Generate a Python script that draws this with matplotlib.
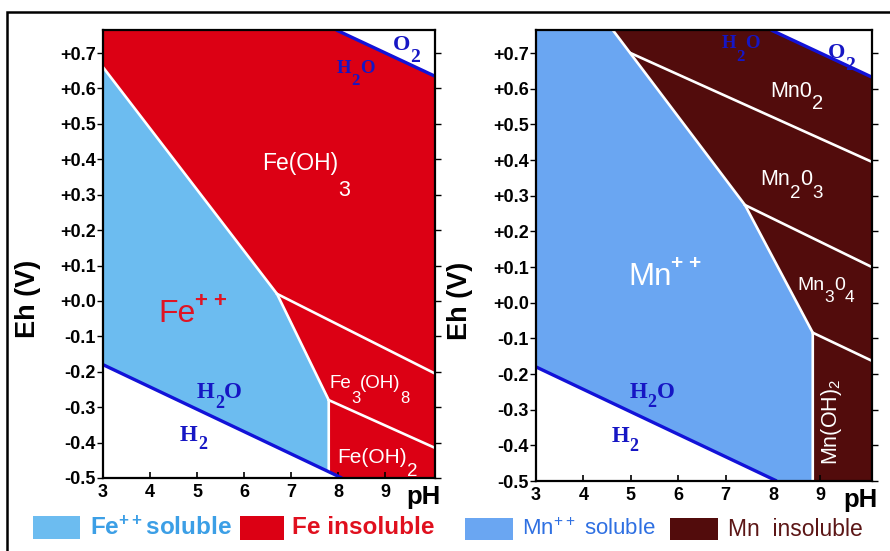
import numpy as np
import matplotlib
matplotlib.use("Agg")
import matplotlib.pyplot as plt
from matplotlib.patches import Rectangle, Polygon

# ---------------- data ----------------
ph_ticks = [3, 4, 5, 6, 7, 8, 9]
eh_ticks = [0.7, 0.6, 0.5, 0.4, 0.3, 0.2, 0.1, 0.0, -0.1, -0.2, -0.3, -0.4, -0.5]
eh_tick_labels = ["+0.7", "+0.6", "+0.5", "+0.4", "+0.3", "+0.2", "+0.1",
                  "+0.0", "-0.1", "-0.2", "-0.3", "-0.4", "-0.5"]
eh_min, eh_max = -0.5, 0.765

# water stability limits
h2o_h2_ph = [3.0, 8.08]
h2o_h2_eh = [-0.18, -0.50]
o2_h2o_ph = [7.96, 10.1]
o2_h2o_eh = [0.765, 0.632]

# Fe diagram
fe_xmax = 10.06
fe_soluble_ph = [3.0, 6.70, 7.80]
fe_soluble_eh = [0.66, 0.02, -0.28]
fe_oh3_oh8_ph = [6.70, 10.06]
fe_oh3_oh8_eh = [0.02, -0.205]
fe_oh8_oh2_ph = [7.80, 10.06]
fe_oh8_oh2_eh = [-0.28, -0.415]

# Mn diagram
mn_xmax = 10.09
mn_soluble_ph = [4.62, 7.41, 8.84, 8.84]
mn_soluble_eh = [0.765, 0.274, -0.084, -0.50]
mn_o2_o3_ph = [5.0, 10.09]
mn_o2_o3_eh = [0.70, 0.395]
mn_o3_o4_ph = [7.41, 10.09]
mn_o3_o4_eh = [0.274, 0.10]
mn_o4_oh2_ph = [8.84, 10.09]
mn_o4_oh2_eh = [-0.084, -0.163]

# ---------------- style ----------------
SANS = "Liberation Sans"
SERIF = "Liberation Serif"
FE_BLUE = "#6cbcf0"
FE_RED = "#dc0014"
MN_BLUE = "#6aa6f2"
MN_BROWN = "#520c0c"
WATER = "#1212d8"
WATER_TXT = "#1616c4"

fig = plt.figure(figsize=(8.9, 5.51), dpi=100)
fig.patch.set_facecolor("white")

ax_fe = fig.add_axes([103 / 890, 1 - 478 / 551, 332 / 890, 448 / 551])
ax_mn = fig.add_axes([536 / 890, 1 - 481 / 551, 336 / 890, 451 / 551])


def style_axes(ax, xmax):
    ax.set_xlim(3, xmax)
    ax.set_ylim(eh_min, eh_max)
    ax.set_xticks(ph_ticks)
    ax.set_xticklabels([str(t) for t in ph_ticks], fontfamily=SANS,
                       fontweight="bold", fontsize=13)
    ax.set_yticks(eh_ticks)
    ax.set_yticklabels(eh_tick_labels, fontfamily=SANS, fontweight="bold",
                       fontsize=13)
    ax.tick_params(axis="x", direction="in", length=4, width=1.2, pad=4,
                   bottom=True, top=False)
    ax.tick_params(axis="y", direction="out", length=4, width=1.0, pad=1,
                   left=True, right=True, labelleft=True, labelright=False)
    for s in ax.spines.values():
        s.set_linewidth(1.6)
        s.set_color("black")
        s.set_zorder(10)
    ax.set_ylabel("Eh (V)", fontfamily=SANS, fontweight="bold", fontsize=19.5)
    ax.yaxis.set_label_coords(-0.187, 0.40)
    ax.text(0.965, -0.043, "pH", transform=ax.transAxes, ha="center",
            va="center", fontfamily=SANS, fontweight="bold", fontsize=18.5)


def insoluble_polygon(xmax):
    pts = [(3.0, eh_max)]
    pts += list(zip(o2_h2o_ph, o2_h2o_eh))
    pts += [(o2_h2o_ph[-1], eh_min), (h2o_h2_ph[-1], eh_min)]
    pts += [(h2o_h2_ph[0], h2o_h2_eh[0])]
    return pts


def water_lines(ax):
    ax.plot(h2o_h2_ph, h2o_h2_eh, color=WATER, lw=2.4, zorder=5,
            solid_capstyle="butt")
    ax.plot(o2_h2o_ph, o2_h2o_eh, color=WATER, lw=2.4, zorder=5,
            solid_capstyle="butt")


def rich(ax, x, y, segs, color, family=SANS, weight="normal"):
    """segs: list of (text, fontsize, baseline offset in points, weight)."""
    s0, fs0, dy0, w0 = segs[0]
    prev = ax.annotate(s0, xy=(x, y), xycoords="data", xytext=(0, dy0),
                       textcoords="offset points", fontsize=fs0,
                       fontfamily=family, fontweight=w0 or weight,
                       color=color, ha="left", va="baseline", zorder=6,
                       annotation_clip=False)
    for s, fs, dy, w in segs[1:]:
        prev = ax.annotate(s, xy=(1, y), xycoords=(prev, "data"),
                           xytext=(0, dy), textcoords="offset points",
                           fontsize=fs, fontfamily=family,
                           fontweight=w or weight, color=color, ha="left",
                           va="baseline", zorder=6, annotation_clip=False)


# ---------------- Fe panel ----------------
ax = ax_fe
style_axes(ax, fe_xmax)
ax.add_patch(Polygon(insoluble_polygon(fe_xmax), closed=True, fc=FE_RED,
                     ec="none", zorder=1))
fe_h2_at_vert = np.interp(fe_soluble_ph[-1], h2o_h2_ph, h2o_h2_eh)
fe_blue = list(zip(fe_soluble_ph, fe_soluble_eh))
fe_blue += [(fe_soluble_ph[-1], fe_h2_at_vert), (h2o_h2_ph[0], h2o_h2_eh[0])]
ax.add_patch(Polygon(fe_blue, closed=True, fc=FE_BLUE, ec="none", zorder=2))
ax.plot(fe_soluble_ph + [fe_soluble_ph[-1]],
        fe_soluble_eh + [fe_h2_at_vert], color="white", lw=1.9, zorder=4)
ax.plot(fe_oh3_oh8_ph, fe_oh3_oh8_eh, color="white", lw=1.9, zorder=4)
ax.plot(fe_oh8_oh2_ph, fe_oh8_oh2_eh, color="white", lw=1.9, zorder=4)
water_lines(ax)

rich(ax, 6.38, 0.370, [("Fe(OH)", 16.5, 0, None), ("3", 15.5, -19, None)],
     "white")
rich(ax, 4.17, -0.059, [("Fe", 23, 0, None), ("+ +", 16, 11, "bold")],
     "#e01424")
rich(ax, 7.81, -0.246, [("Fe", 13.5, 0, None), ("3", 12, -11, None),
                        ("(OH)", 13.5, 0, None), ("8", 12, -11, None)], "white")
rich(ax, 7.98, -0.458, [("Fe(OH)", 15, 0, None), ("2", 13.5, -9, None)],
     "white")
rich(ax, 5.0, -0.274, [("H", 16.5, 0, None), ("2", 13, -7, None),
                       ("O", 16.5, 0, None)], WATER_TXT, SERIF, "bold")
rich(ax, 4.64, -0.395, [("H", 16.5, 0, None), ("2", 13, -6, None)],
     WATER_TXT, SERIF, "bold")
rich(ax, 7.98, 0.644, [("H", 13.5, 0, None), ("2", 12, -9, None),
                       ("O", 13.5, 0, None)], WATER_TXT, SERIF, "bold")
rich(ax, 9.17, 0.709, [("O", 16, 0, None), ("2", 14, -8.5, None)],
     WATER_TXT, SERIF, "bold")

# ---------------- Mn panel ----------------
ax = ax_mn
style_axes(ax, mn_xmax)
ax.add_patch(Polygon(insoluble_polygon(mn_xmax), closed=True, fc=MN_BROWN,
                     ec="none", zorder=1))
mn_blue = [(3.0, eh_max)] + list(zip(mn_soluble_ph, mn_soluble_eh))
mn_blue += [(h2o_h2_ph[-1], h2o_h2_eh[-1]), (h2o_h2_ph[0], h2o_h2_eh[0])]
ax.add_patch(Polygon(mn_blue, closed=True, fc=MN_BLUE, ec="none", zorder=2))
ax.plot(mn_soluble_ph, mn_soluble_eh, color="white", lw=1.9, zorder=4)
ax.plot(mn_o2_o3_ph, mn_o2_o3_eh, color="white", lw=1.9, zorder=4)
ax.plot(mn_o3_o4_ph, mn_o3_o4_eh, color="white", lw=1.9, zorder=4)
ax.plot(mn_o4_oh2_ph, mn_o4_oh2_eh, color="white", lw=1.9, zorder=4)
water_lines(ax)

rich(ax, 7.94, 0.577, [("Mn0", 15.5, 0, None), ("2", 14.5, -8.5, None)],
     "white")
rich(ax, 7.73, 0.331, [("Mn", 15.5, 0, None), ("2", 13.5, -9.5, None),
                       ("0", 15.5, 0, None), ("3", 13.5, -9.5, None)], "white")
rich(ax, 8.51, 0.036, [("Mn", 14, 0, None), ("3", 12.5, -8.6, None),
                       ("0", 14, 0, None), ("4", 12.5, -8.6, None)], "white")
ax.text(9.245, -0.333, r"$\mathregular{Mn(OH)_2}$", color="white",
        fontfamily=SANS, fontsize=15.5, ha="center", va="center", rotation=90,
        zorder=6)
rich(ax, 4.94, 0.050, [("Mn", 22.5, 0, None), ("+ +", 15, 11.5, "bold")],
     "white")
rich(ax, 4.98, -0.266, [("H", 16.5, 0, None), ("2", 13, -7, None),
                        ("O", 16.5, 0, None)], WATER_TXT, SERIF, "bold")
rich(ax, 4.60, -0.392, [("H", 16.5, 0, None), ("2", 13, -6, None)],
     WATER_TXT, SERIF, "bold")
rich(ax, 6.92, 0.714, [("H", 13.5, 0, None), ("2", 12, -9, None),
                       ("O", 13.5, 0, None)], WATER_TXT, SERIF, "bold")
rich(ax, 9.16, 0.686, [("O", 16, 0, None), ("2", 14, -8.5, None)],
     WATER_TXT, SERIF, "bold")

# ---------------- legends below ----------------
def legend_box(x0, x1, y0, y1, color):
    fig.add_artist(Rectangle((x0 / 890, 1 - y1 / 551), (x1 - x0) / 890,
                             (y1 - y0) / 551, transform=fig.transFigure,
                             fc=color, ec="none"))


legend_box(33, 80, 516, 539, FE_BLUE)
fig.text(90 / 890, 1 - 528 / 551, r"$\mathregular{Fe^{++}soluble}$",
         color="#3c9fe6", fontfamily=SANS, fontweight="bold", fontsize=17.5,
         ha="left", va="center")
legend_box(240, 284, 516, 540, FE_RED)
fig.text(292 / 890, 1 - 528 / 551, "Fe insoluble", color="#e0101e",
         fontfamily=SANS, fontweight="bold", fontsize=17.5, ha="left",
         va="center")
legend_box(465, 513, 518, 540, MN_BLUE)
fig.text(522 / 890, 1 - 529 / 551, r"$\mathregular{Mn^{++}}$ soluble",
         color="#2f70e2", fontfamily=SANS, fontsize=16, ha="left",
         va="center")
legend_box(670, 718, 518, 540, MN_BROWN)
fig.text(728 / 890, 1 - 529 / 551, "Mn  insoluble", color="#5c1616",
         fontfamily=SANS, fontsize=16.5, ha="left", va="center")

# outer frame (extends past right/bottom edges)
fig.add_artist(Rectangle((7 / 890, -0.05), 1.2, 1 - 12 / 551 + 0.05,
                         transform=fig.transFigure, fc="none", ec="black",
                         lw=1.8))

fig.savefig("out.png", dpi=100, facecolor="white")
